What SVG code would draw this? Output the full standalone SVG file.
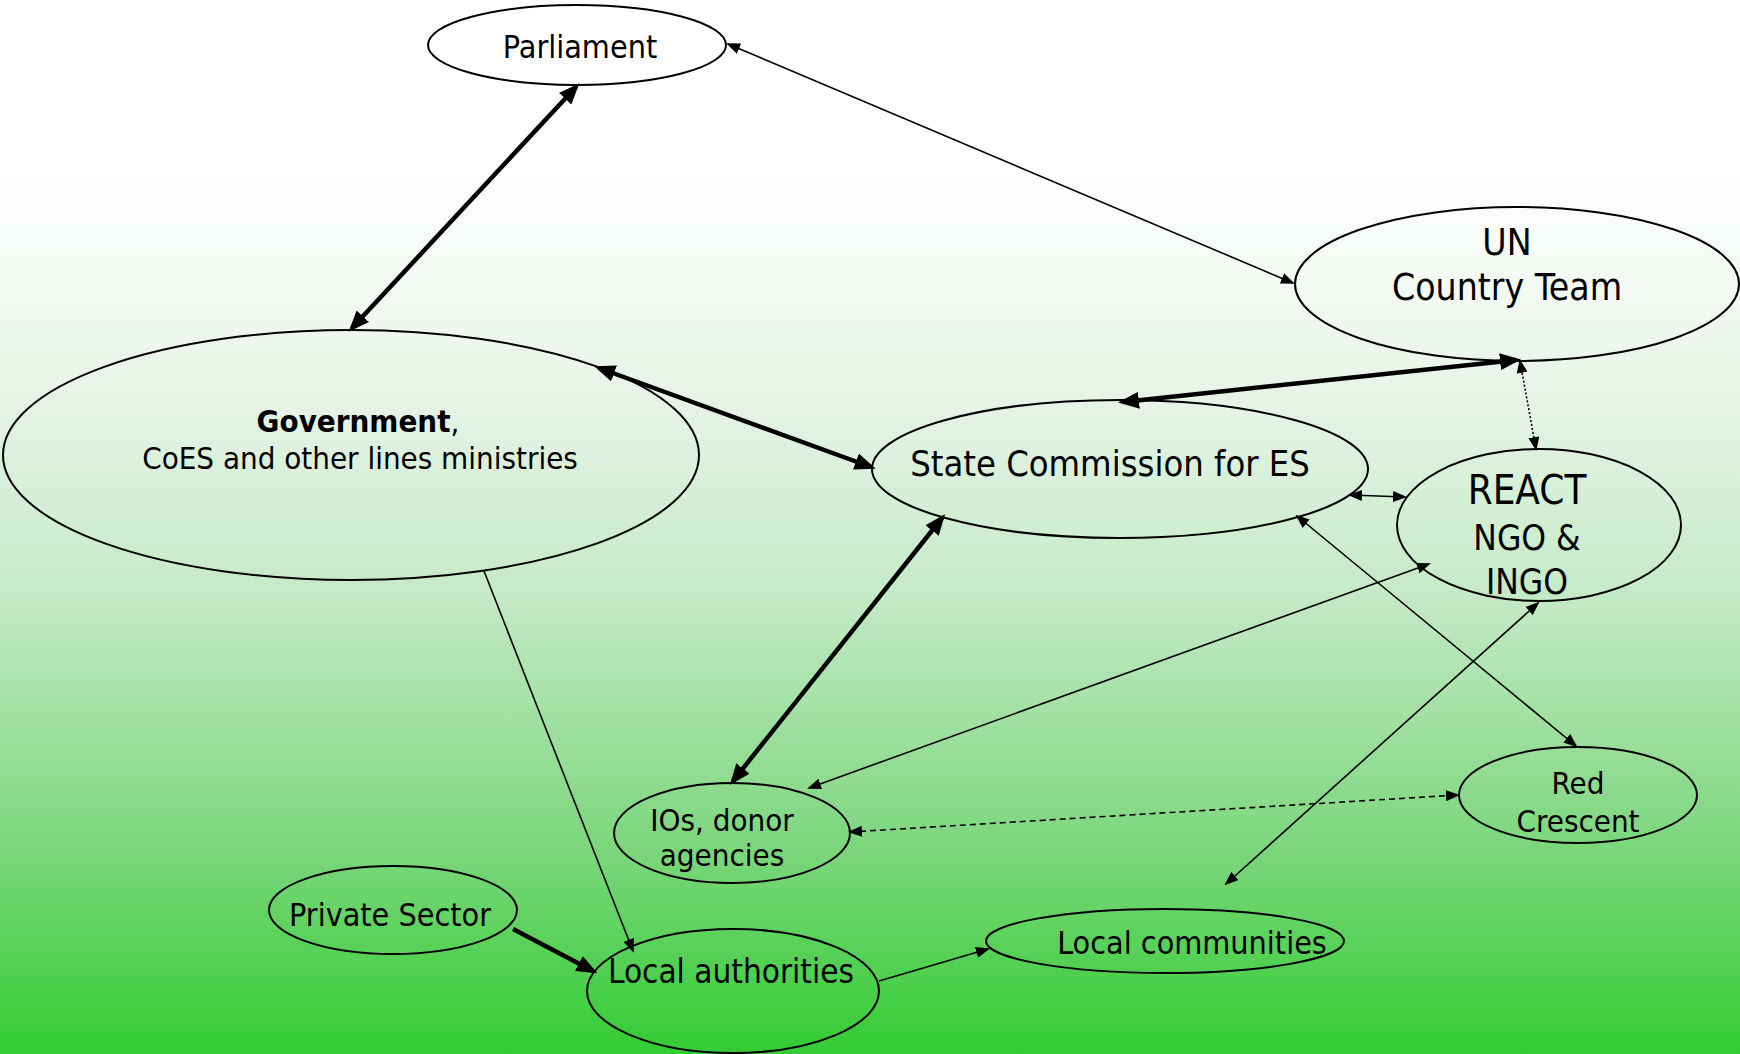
<svg xmlns="http://www.w3.org/2000/svg" width="1740" height="1054" viewBox="0 0 1740 1054">
<defs>
<linearGradient id="bg" x1="0" y1="0" x2="0" y2="1">
<stop offset="0" stop-color="#ffffff"/>
<stop offset="0.15" stop-color="#ffffff"/>
<stop offset="0.27" stop-color="#f4faf4"/>
<stop offset="0.38" stop-color="#e6f4e6"/>
<stop offset="0.56" stop-color="#c6eac8"/>
<stop offset="0.81" stop-color="#7ad67a"/>
<stop offset="1" stop-color="#33cc33"/>
</linearGradient>
<marker id="ah" markerUnits="userSpaceOnUse" markerWidth="14" markerHeight="11" refX="12" refY="5.5" orient="auto-start-reverse">
<path d="M0,0 L14,5.5 L0,11 z" fill="#000"/>
</marker>
<marker id="ahk" markerUnits="userSpaceOnUse" markerWidth="21" markerHeight="17" refX="16" refY="8.5" orient="auto-start-reverse">
<path d="M0,0 L21,8.5 L0,17 z" fill="#000"/>
</marker>
<style>
.node ellipse{fill:none;stroke:#000;stroke-width:2}
text{font-family:"DejaVu Sans Condensed","Liberation Sans",sans-serif;fill:#000;text-anchor:middle}
.thin{stroke:#000;stroke-width:1.6;fill:none}
.thick{stroke:#000;stroke-width:4.5;fill:none}
.both{marker-start:url(#ah);marker-end:url(#ah)}
.bothk{marker-start:url(#ahk);marker-end:url(#ahk)}
.endt{marker-end:url(#ah)}
.endk{marker-end:url(#ahk)}
.dot{stroke-dasharray:2,2}
.dash{stroke-dasharray:6,4}
</style>
</defs>
<rect x="0" y="0" width="1740" height="1054" fill="url(#bg)"/>

<g id="connectors">
<line class="thick bothk" x1="576" y1="87" x2="352" y2="328"/>
<line class="thin both" x1="728" y1="44" x2="1293" y2="283"/>
<line class="thick bothk" x1="599" y1="368" x2="871" y2="467"/>
<line class="thick bothk" x1="1123" y1="402" x2="1516" y2="360"/>
<line class="thin both dot" x1="1520" y1="361" x2="1536" y2="449"/>
<line class="thin both" x1="1350" y1="495" x2="1405" y2="497"/>
<line class="thick bothk" x1="942" y1="518" x2="733" y2="781"/>
<line class="thin both" x1="1429" y1="564" x2="809" y2="788"/>
<line class="thin both" x1="1297" y1="516" x2="1576" y2="746"/>
<line class="thin both" x1="1538" y1="603" x2="1226" y2="884"/>
<line class="thin both dash" x1="850" y1="832" x2="1458" y2="795"/>
<line class="thin endt" x1="484" y1="571" x2="633" y2="951"/>
<line class="thick endk" x1="513" y1="929" x2="593" y2="971"/>
<line class="thin endt" x1="879" y1="981" x2="988" y2="949"/>
</g>

<g id="parliament" class="node">
<ellipse cx="577" cy="45" rx="149" ry="40"/>
<text x="580" y="58" font-size="32">Parliament</text>
</g>

<g id="un" class="node">
<ellipse cx="1517" cy="284" rx="222" ry="77"/>
<text x="1507" y="255" font-size="37">UN</text>
<text x="1507" y="300" font-size="37">Country Team</text>
</g>

<g id="government" class="node">
<ellipse cx="351" cy="455" rx="348" ry="125"/>
<text x="358" y="432" font-size="31"><tspan font-weight="bold">Government</tspan>,</text>
<text x="360" y="469" font-size="31">CoES and other lines ministries</text>
</g>

<g id="state" class="node">
<ellipse cx="1120" cy="469" rx="248" ry="69"/>
<text x="1110" y="476" font-size="36">State Commission for ES</text>
</g>

<g id="react" class="node">
<ellipse cx="1539" cy="525" rx="142" ry="76"/>
<text x="1527" y="504" font-size="40">REACT</text>
<text x="1527" y="550" font-size="35">NGO &amp;</text>
<text x="1527" y="594" font-size="35">INGO</text>
</g>

<g id="ios" class="node">
<ellipse cx="732" cy="833" rx="118" ry="50"/>
<text x="722" y="831" font-size="31">IOs, donor</text>
<text x="722" y="866" font-size="31">agencies</text>
</g>

<g id="redcrescent" class="node">
<ellipse cx="1578" cy="795" rx="119" ry="48"/>
<text x="1578" y="794" font-size="31">Red</text>
<text x="1578" y="832" font-size="31">Crescent</text>
</g>

<g id="private" class="node">
<ellipse cx="393" cy="910" rx="124" ry="44"/>
<text x="390" y="926" font-size="32">Private Sector</text>
</g>

<g id="localauth" class="node">
<ellipse cx="733" cy="991" rx="146" ry="62"/>
<text x="731" y="983" font-size="33">Local authorities</text>
</g>

<g id="localcomm" class="node">
<ellipse cx="1165" cy="941" rx="179" ry="32"/>
<text x="1192" y="954" font-size="32">Local communities</text>
</g>
</svg>
